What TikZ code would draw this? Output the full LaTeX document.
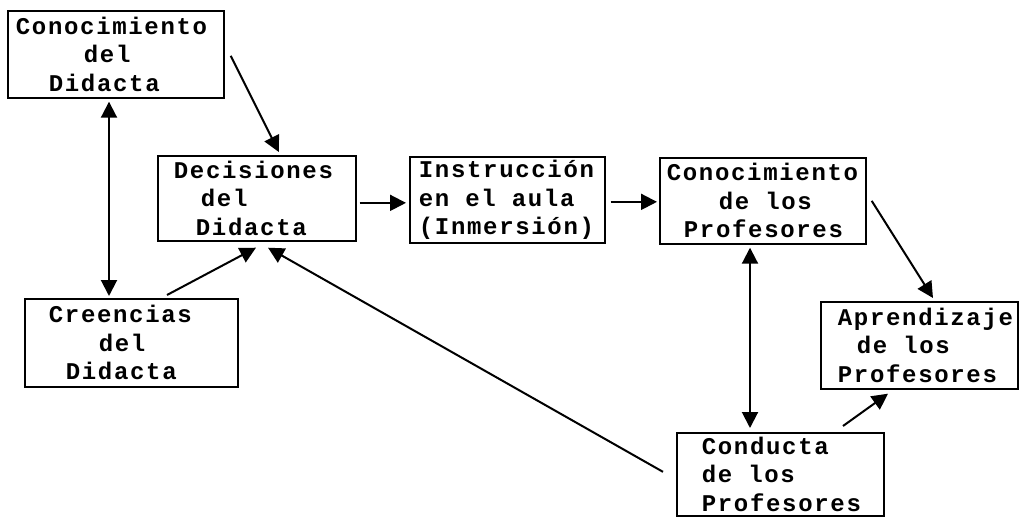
\documentclass[tikz,border=0pt]{standalone}
\usepackage{fontspec}
\newfontfamily\boxfont{Liberation Mono}[LetterSpace=7]
\usetikzlibrary{arrows.meta,calc}
\newcommand{\ws}{\hspace{16pt}}
\begin{document}
\begin{tikzpicture}[x=1pt,y=-1pt,
  box/.style={draw, line width=1.7pt, inner sep=0pt, anchor=north west, align=left,
    font=\boxfont\bfseries\fontsize{24}{28.5}\selectfont},
  tip/.style={-{Triangle[length=16pt,width=16pt]}},
  conn/.style={line width=2pt, tip},
  conn2/.style={line width=2pt, {Triangle[length=16pt,width=16pt]}-{Triangle[length=16pt,width=16pt]}}]
\useasboundingbox[fill=white] (0,0) rectangle (1020,517);

\node[box, minimum width=216pt, text width=216pt, minimum height=87pt] (b1) at (7,10)
  {\hspace*{8pt}Conocimiento\\\hspace*{76pt}del\\\hspace*{41pt}Didacta};
\node[box, minimum width=198pt, text width=198pt, minimum height=85pt] (b2) at (157,155)
  {\hspace*{16pt}Decisiones\\\hspace*{43pt}del\\\hspace*{38pt}Didacta};
\node[box, minimum width=195pt, text width=195pt, minimum height=86pt] (b3) at (409,156)
  {\hspace*{9pt}Instrucción\\\hspace*{9pt}en\ws el\ws aula\\\hspace*{9pt}(Inmersión)};
\node[box, minimum width=206pt, text width=206pt, minimum height=86pt] (b4) at (659,157)
  {\hspace*{7pt}Conocimiento\\\hspace*{59pt}de\ws los\\\hspace*{24pt}Profesores};
\node[box, minimum width=213pt, text width=213pt, minimum height=88pt] (b5) at (24,298)
  {\hspace*{24pt}Creencias\\\hspace*{74pt}del\\\hspace*{41pt}Didacta};
\node[box, minimum width=197pt, text width=197pt, minimum height=87pt] (b6) at (820,301)
  {\hspace*{17pt}Aprendizaje\\\hspace*{36pt}de\ws los\\\hspace*{17pt}Profesores};
\node[box, minimum width=207pt, text width=207pt, minimum height=83pt] (b7) at (676,432)
  {\hspace*{25pt}Conducta\\\hspace*{25pt}de\ws los\\\hspace*{25pt}Profesores};

% connectors
\draw[conn] ($(b1.east)+(6,1.5)$) -- ($(b2.north)+(22,-3)$);
\draw[conn2] ($(b1.south west)+(102,3)$) -- ($(b5.north west)+(85,-2)$);
\draw[conn] ($(b5.north west)+(143,-3)$) -- ($(b2.south west)+(99,6)$);
\draw[conn] ($(b7.west)+(-13,-2.5)$) -- ($(b2.south west)+(111,6)$);
\draw[conn] ($(b2.east)+(3,4.5)$) -- ($(b3.west)+(-3,3)$);
\draw[conn] ($(b3.east)+(5,2)$) -- ($(b4.west)+(-2,1)$);
\draw[conn] ($(b4.east)+(5,0)$) -- ($(b6.north west)+(113,-3)$);
\draw[conn2] ($(b4.south west)+(91,3)$) -- ($(b7.north west)+(74,-4)$);
\draw[conn] ($(b7.north west)+(167,-6)$) -- ($(b6.south west)+(68,4)$);
\end{tikzpicture}
\end{document}
